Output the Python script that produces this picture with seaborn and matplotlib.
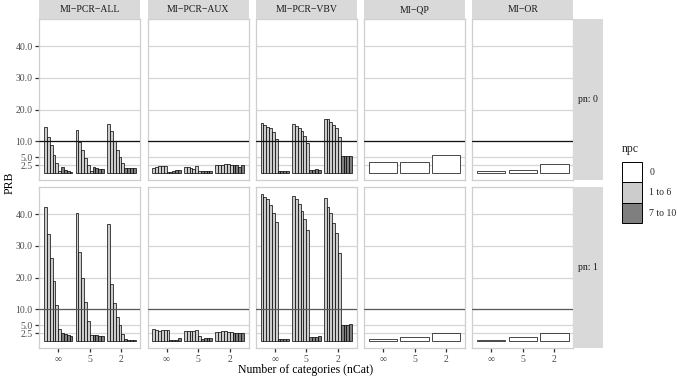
import matplotlib
matplotlib.use("Agg")
import matplotlib.pyplot as plt
from matplotlib.patches import Patch
import pandas as pd
import seaborn as sns

# Data

methods = ["MI\u2212PCR\u2212ALL", "MI\u2212PCR\u2212AUX", "MI\u2212PCR\u2212VBV", "MI\u2212QP", "MI\u2212OR"]
ncat_labels = ["\u221e", "5", "2"]
pn_levels = [0, 1]
npc_pcr = [str(i) for i in range(1, 11)]
npc_single = ["0"]

# each list: one row per nCat (inf, 5, 2), one value per npc 1..10
pcr_all_pn0 = [[14.6, 11.5, 8.7, 5.6, 3.2, 0.7, 1.9, 1.1, 0.6, 0.3],
               [13.7, 9.9, 7.3, 4.6, 2.4, 0.5, 1.9, 1.6, 1.3, 1.3],
               [15.6, 13.1, 10.0, 7.3, 5.1, 3.2, 1.6, 1.6, 1.6, 1.6]]
pcr_all_pn1 = [[42.4, 33.8, 26.2, 19.0, 11.5, 3.8, 2.4, 2.3, 1.9, 1.6],
               [40.5, 28.1, 19.8, 12.2, 6.4, 2.0, 1.9, 1.8, 1.6, 1.6],
               [37.0, 18.1, 12.0, 7.7, 5.0, 2.3, 0.5, 0.4, 0.4, 0.3]]
pcr_aux_pn0 = [[1.5, 2.0, 2.1, 2.1, 2.1, 0.4, 0.4, 0.5, 0.8, 0.8],
               [1.9, 1.9, 1.6, 1.4, 2.1, 0.5, 0.5, 0.5, 0.6, 0.7],
               [2.4, 2.5, 2.5, 2.7, 2.9, 2.6, 2.5, 2.5, 2.0, 2.5]]
pcr_aux_pn1 = [[3.8, 3.5, 3.3, 3.6, 3.5, 3.4, 0.3, 0.3, 0.4, 0.9],
               [3.3, 3.2, 3.1, 3.3, 3.4, 1.5, 0.6, 0.8, 0.9, 1.0],
               [2.8, 2.8, 3.1, 3.1, 3.0, 2.9, 2.4, 2.4, 2.4, 2.5]]
pcr_vbv_pn0 = [[15.9, 15.3, 14.6, 14.1, 13.0, 10.6, 0.5, 0.5, 0.5, 0.5],
               [15.4, 14.9, 14.2, 13.3, 11.7, 9.4, 1.0, 1.1, 1.2, 0.9],
               [17.1, 17.1, 16.0, 15.2, 14.2, 11.3, 5.5, 5.5, 5.5, 5.5]]
pcr_vbv_pn1 = [[46.3, 45.3, 44.7, 43.0, 40.5, 37.7, 0.7, 0.5, 0.5, 0.5],
               [45.9, 44.7, 43.3, 41.1, 38.4, 35.1, 1.3, 1.3, 1.3, 1.5],
               [45.0, 42.4, 40.3, 37.2, 34.0, 27.7, 5.0, 5.0, 5.2, 5.3]]
qp_pn0 = [3.4, 3.4, 5.6]
qp_pn1 = [0.7, 1.2, 2.4]
or_pn0 = [0.5, 0.8, 2.8]
or_pn1 = [0.3, 1.2, 2.4]

pcr_data = {
    (methods[0], 0): pcr_all_pn0, (methods[0], 1): pcr_all_pn1,
    (methods[1], 0): pcr_aux_pn0, (methods[1], 1): pcr_aux_pn1,
    (methods[2], 0): pcr_vbv_pn0, (methods[2], 1): pcr_vbv_pn1,
}
single_data = {
    (methods[3], 0): qp_pn0, (methods[3], 1): qp_pn1,
    (methods[4], 0): or_pn0, (methods[4], 1): or_pn1,
}

rows = []
for (m, pn), groups in pcr_data.items():
    for nc, vals in zip(ncat_labels, groups):
        for npc, v in zip(npc_pcr, vals):
            rows.append({"method": m, "pn": pn, "nCat": nc, "npc": npc, "PRB": v})
for (m, pn), vals in single_data.items():
    for nc, v in zip(ncat_labels, vals):
        rows.append({"method": m, "pn": pn, "nCat": nc, "npc": "0", "PRB": v})
df = pd.DataFrame(rows)

# Styling

sns.set_theme(style="white")
plt.rcParams["font.family"] = ["Liberation Serif", "DejaVu Serif"]

fill_white, fill_light, fill_dark = "#FFFFFF", "#CCCCCC", "#7F7F7F"
palette = {"0": fill_white}
palette.update({str(i): fill_light for i in range(1, 7)})
palette.update({str(i): fill_dark for i in range(7, 11)})

strip_col = "#D9D9D9"
border_col = "#CFCFCF"
grid_col = "#D6D6D6"
tick_txt = "#4D4D4D"

W, H = 677, 379
def rect(x0, y0, w, h):
    return [x0 / W, 1 - (y0 + h) / H, w / W, h / H]

fig = plt.figure(figsize=(W / 100, H / 100), dpi=100)

col_left = [39.3, 147.6, 255.8, 364.0, 472.3]
panel_w = 101.0
row_top = [19.0, 187.0]
panel_h = 161.3
yticks = [2.5, 5, 10, 20, 30, 40]

for r, pn in enumerate(pn_levels):
    for c, m in enumerate(methods):
        ax = fig.add_axes(rect(col_left[c], row_top[r], panel_w, panel_h))
        sub = df[(df["method"] == m) & (df["pn"] == pn)]
        hue_order = npc_pcr if "PCR" in m else npc_single
        sns.barplot(data=sub, x="nCat", y="PRB", hue="npc", order=ncat_labels,
                    hue_order=hue_order, palette=palette, width=0.9, gap=0,
                    edgecolor="black", linewidth=0.5, errorbar=None,
                    legend=False, ax=ax, zorder=2)
        ax.axhline(10, color="#111111" if pn == 0 else "#5A5A5A", linewidth=0.9, zorder=3)
        ax.set_xlim(-0.6, 2.6)
        ax.set_ylim(-2.3, 48.6)
        ax.set_yticks(yticks)
        ax.set_axisbelow(True)
        ax.yaxis.grid(True, color=grid_col, linewidth=0.9)
        ax.xaxis.grid(False)
        ax.set_xlabel("")
        ax.set_ylabel("")
        for s in ax.spines.values():
            s.set_color(border_col)
            s.set_linewidth(0.9)
        ax.tick_params(axis="both", length=2.8, width=0.9, color="#333333",
                       labelsize=7, labelcolor=tick_txt, pad=2)
        if c == 0:
            ax.tick_params(axis="y", left=True, labelleft=True)
            ax.set_yticklabels([f"{t:.1f}" for t in yticks])
        else:
            ax.tick_params(axis="y", left=False, labelleft=False)
        if r == 1:
            ax.set_xticks(range(len(ncat_labels)))
            ax.set_xticklabels(ncat_labels)
            ax.tick_params(axis="x", bottom=True, labelbottom=True)
        else:
            ax.tick_params(axis="x", bottom=False, labelbottom=False)

        # top strips
        if r == 0:
            sax = fig.add_axes(rect(col_left[c], 0, panel_w, row_top[0]))
            sax.set_facecolor(strip_col)
            sax.set_xticks([]); sax.set_yticks([])
            for s in sax.spines.values():
                s.set_visible(False)
            sax.text(0.5, 0.5, m, ha="center", va="center", fontsize=7,
                     color="#1A1A1A", transform=sax.transAxes)

    # right strips
    rax = fig.add_axes(rect(col_left[-1] + panel_w, row_top[r], 30, panel_h))
    rax.set_facecolor(strip_col)
    rax.set_xticks([]); rax.set_yticks([])
    for s in rax.spines.values():
        s.set_visible(False)
    rax.text(0.5, 0.5, f"pn: {pn}", ha="center", va="center", fontsize=7,
             color="#1A1A1A", transform=rax.transAxes)

fig.text(306 / W, 1 - 370 / H, "Number of categories (nCat)", ha="center", va="center",
         fontsize=8.5, color="black")
fig.text(10 / W, 1 - 183 / H, "PRB", ha="center", va="center", rotation=90,
         fontsize=8.5, color="black")

handles = [Patch(facecolor=fill_white, edgecolor="black", linewidth=0.7, label="0"),
           Patch(facecolor=fill_light, edgecolor="black", linewidth=0.7, label="1 to 6"),
           Patch(facecolor=fill_dark, edgecolor="black", linewidth=0.7, label="7 to 10")]
leg = fig.legend(handles=handles, title="npc", loc="upper left",
                 bbox_to_anchor=(622 / W, 1 - 143 / H), frameon=False,
                 fontsize=7, title_fontsize=8.5, handlelength=2.1, handleheight=2.85,
                 labelspacing=0.0, handletextpad=0.7, borderpad=0.0, borderaxespad=0.0)
leg._legend_box.align = "left"
leg._legend_box.sep = 5

fig.savefig("out.png", dpi=100)
